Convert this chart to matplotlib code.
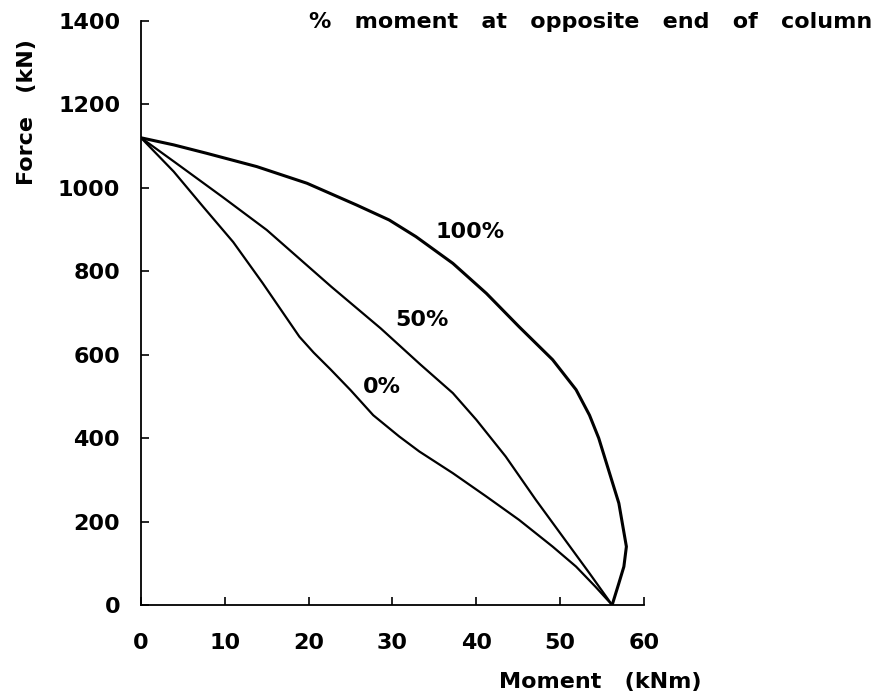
import matplotlib
matplotlib.use('Agg')
import matplotlib.pyplot as plt

# curves: moment (kNm), force (kN)
m_100 = [0, 3.9, 7.8, 13.8, 19.8, 25.7, 29.6, 32.8, 37.2, 41.2, 45.1, 49.1,
         51.9, 53.5, 54.6, 55.4, 57.0, 57.9, 57.6, 57.0, 56.2]
f_100 = [1120, 1103, 1083, 1051, 1011, 959, 923, 883, 819, 747, 667, 588,
         516, 455, 400, 348, 244, 140, 92, 52, 0]

m_50 = [0, 4.0, 9.8, 15.0, 22.7, 28.6, 33.3, 37.2, 40.0, 43.5, 47.1, 50.3, 53.5, 56.2]
f_50 = [1120, 1062, 977, 899, 763, 663, 577, 508, 444, 356, 252, 164, 76, 0]

m_0 = [0, 3.9, 7.4, 11.0, 14.5, 18.9, 20.6, 22.6, 25.0, 27.7, 30.8, 33.2,
       37.2, 41.2, 45.1, 49.1, 51.9, 54.2, 56.2]
f_0 = [1120, 1039, 955, 870, 772, 643, 605, 565, 515, 455, 404, 368,
       316, 260, 204, 140, 92, 44, 0]

labels = ['100%', '50%', '0%']
label_pos = [(39.2, 894), (33.5, 683), (28.7, 523)]

xticks = [0, 10, 20, 30, 40, 50, 60]
yticks = [0, 200, 400, 600, 800, 1000, 1200, 1400]

plt.rcParams['font.family'] = ['DejaVu Sans']
plt.rcParams['font.weight'] = 'bold'

fig = plt.figure(figsize=(8.84, 6.95), dpi=100)
ax = fig.add_axes([0.1595, 0.1295, 0.5690, 0.8403])

ax.plot(m_100, f_100, color='black', lw=2.2, solid_joinstyle='round')
ax.plot(m_50, f_50, color='black', lw=1.6, solid_joinstyle='round')
ax.plot(m_0, f_0, color='black', lw=1.6, solid_joinstyle='round')

for lab, (x, y) in zip(labels, label_pos):
    ax.text(x, y, lab, fontsize=16, fontweight='bold', ha='center', va='center')

ax.set_xlim(0, 60)
ax.set_ylim(0, 1400)
ax.set_xticks(xticks)
ax.set_yticks(yticks)
ax.tick_params(direction='in', length=6, width=1.2, labelsize=16)
ax.tick_params(axis='x', pad=20)
ax.tick_params(axis='y', pad=15)
for s in ['top', 'right']:
    ax.spines[s].set_visible(False)
for s in ['left', 'bottom']:
    ax.spines[s].set_linewidth(1.3)

fig.text(0.031, 0.839, 'Force   (kN)', rotation=90, fontsize=16, fontweight='bold',
         ha='center', va='center')
fig.text(0.793, 0.019, 'Moment   (kNm)', fontsize=16, fontweight='bold',
         ha='right', va='center')
fig.text(0.349, 0.968, '%   moment   at   opposite   end   of   column', fontsize=16,
         fontweight='bold', ha='left', va='center')

fig.savefig('out.png', dpi=100)
